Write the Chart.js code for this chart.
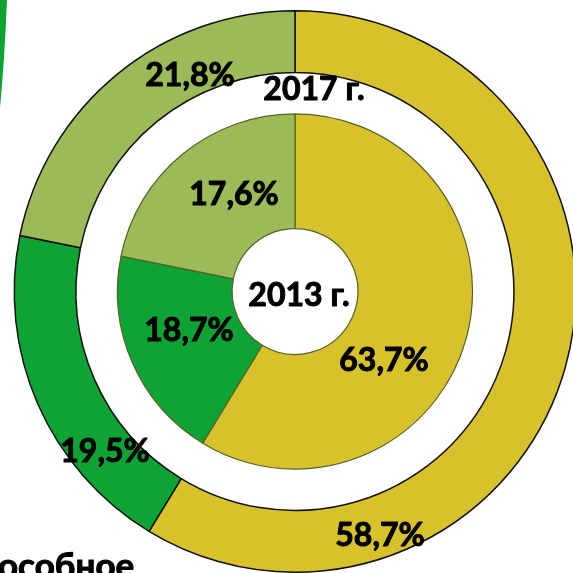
<!DOCTYPE html>
<html>
<head>
<meta charset="utf-8">
<script src="https://cdn.jsdelivr.net/npm/chart.js@4/dist/chart.umd.min.js"></script>
<style>
  html, body { margin: 0; padding: 0; background: #fff; }
  #wrap { position: relative; width: 573px; height: 573px; overflow: hidden; }
  canvas { position: absolute; left: 0; top: 0; }
</style>
</head>
<body>
<div id="wrap"><canvas id="c" width="600" height="600"></canvas></div>
<script>
const categories = ['Категория 1', 'Категория 2', 'Категория 3'];
// outer ring (2017)
const values2017 = [58.7, 19.5, 21.8];
// inner ring (2013): printed labels
const labels2013 = [63.7, 18.7, 17.6];
// inner ring slice shares as drawn in the picture (same split as the outer ring)
const slices2013 = [58.7, 19.5, 21.8];
const yearLabels = ['2017 г.', '2013 г.'];
const colors = ['#D8C22B', '#0EA335', '#9BBB59'];

const fmt = v => v.toFixed(1).replace('.', ',') + '%';

// label anchors (relative to doughnut centre, in pixels)
const outerLabelPos = [[85, 244], [-190, 160], [-105, -216]];
const innerLabelPos = [[89, 69], [-106, 39], [-61, -97]];

const FONT = 'bold 32px Lato, "Open Sans", sans-serif';

function boldText(ctx, t, x, y) {
  ctx.strokeText(t, x, y);
  ctx.fillText(t, x, y);
}

const decor = {
  id: 'decor',
  afterDraw(chart) {
    const ctx = chart.ctx;
    const meta0 = chart.getDatasetMeta(0);
    const arc0 = meta0.data[0];
    const cx = arc0.x, cy = arc0.y;
    ctx.save();
    ctx.fillStyle = '#000';
    ctx.strokeStyle = '#000';
    ctx.lineWidth = 1;
    ctx.lineJoin = 'round';
    ctx.font = FONT;
    ctx.textAlign = 'center';
    ctx.textBaseline = 'middle';
    meta0.data.forEach((a, i) => {
      boldText(ctx, fmt(values2017[i]), cx + outerLabelPos[i][0], cy + outerLabelPos[i][1]);
    });
    const meta2 = chart.getDatasetMeta(2);
    meta2.data.forEach((a, i) => {
      boldText(ctx, fmt(labels2013[i]), cx + innerLabelPos[i][0], cy + innerLabelPos[i][1]);
    });
    boldText(ctx, yearLabels[0], cx + 19, cy - 202);
    boldText(ctx, yearLabels[1], cx + 4, cy + 4);
    // decorative green stroke top-left
    ctx.fillStyle = '#0EA335';
    ctx.beginPath();
    ctx.moveTo(0, 0);
    ctx.lineTo(7, 0);
    ctx.quadraticCurveTo(4.5, 60, 0, 108);
    ctx.closePath();
    ctx.fill();
    // cropped text at bottom
    ctx.fillStyle = '#000';
    ctx.font = 'bold 35px Lato, "Open Sans", sans-serif';
    ctx.textAlign = 'left';
    ctx.textBaseline = 'alphabetic';
    boldText(ctx, 'особное', -2, 578);
    ctx.restore();
  }
};

new Chart(document.getElementById('c'), {
  type: 'doughnut',
  data: {
    labels: categories,
    datasets: [
      { data: values2017, backgroundColor: colors, borderColor: '#111', borderWidth: 1.5, weight: 62 },
      { data: [1], backgroundColor: 'rgba(0,0,0,0)', borderWidth: 0, weight: 41.5 },
      { data: slices2013, backgroundColor: colors, borderColor: '#55622A', borderWidth: 1.2, weight: 115 }
    ]
  },
  options: {
    responsive: false,
    animation: false,
    cutout: '22.4%',
    layout: { padding: { left: 13.5, top: 10, right: 23.5, bottom: 27 } },
    plugins: { legend: { display: false }, tooltip: { enabled: false } },
    events: []
  },
  plugins: [decor]
});
</script>
</body>
</html>
